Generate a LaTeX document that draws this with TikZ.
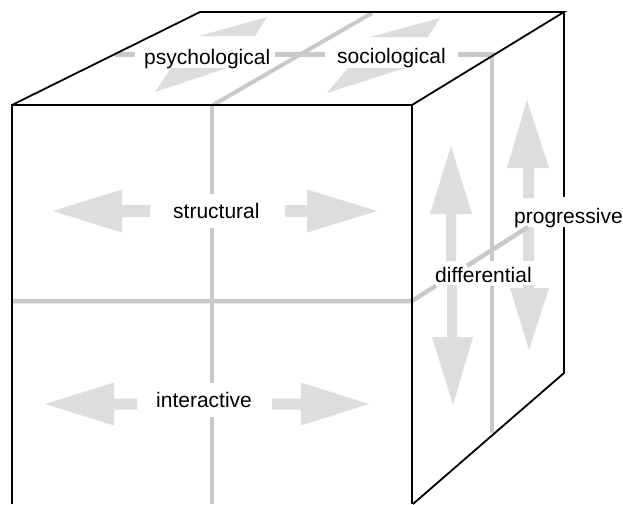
\documentclass[tikz,border=0pt]{standalone}
\usepackage{fontspec}
\setmainfont{Liberation Sans}
\definecolor{gridgrey}{HTML}{C9C9C9}
\definecolor{arrowgrey}{HTML}{DDDDDD}
\begin{document}
\begin{tikzpicture}[x=1pt,y=-1pt,
  cubeedge/.style={draw=black,line width=1.8pt,line join=miter},
  gridline/.style={draw=gridgrey,line width=4.5pt},
  arrowshape/.style={fill=arrowgrey,draw=none},
  lbl/.style={inner sep=0pt,anchor=base west,font=\fontsize{21}{25}\selectfont}]
\useasboundingbox[fill=white] (0,0) rectangle (623,504);

% ---- grey arrows, front face ----
\fill[arrowshape] (53,211) -- (122,189.5) -- (122,205) -- (150,205) -- (150,217) -- (122,217) -- (122,232.5) -- cycle;
\fill[arrowshape] (285,205) -- (307,205) -- (307,189.5) -- (377,211) -- (307,232.5) -- (307,217) -- (285,217) -- cycle;
\fill[arrowshape] (45,404) -- (114,382.5) -- (114,398.5) -- (137,398.5) -- (137,409.5) -- (114,409.5) -- (114,425.5) -- cycle;
\fill[arrowshape] (272,398.5) -- (301,398.5) -- (301,382.5) -- (369,404) -- (301,425.5) -- (301,409.5) -- (272,409.5) -- cycle;

% ---- grey arrows, right face ----
\fill[arrowshape] (451,146) -- (472,214) -- (456,214) -- (456,261) -- (446,261) -- (446,214) -- (430,214) -- cycle;
\fill[arrowshape] (447,285) -- (457,285) -- (457,337) -- (473,337) -- (453,405) -- (432,337) -- (447,337) -- cycle;
\fill[arrowshape] (527,100) -- (549,168) -- (534,168) -- (534,198) -- (523,198) -- (523,168) -- (507,168) -- cycle;
\fill[arrowshape] (523,227) -- (534,227) -- (534,261) -- (523,261) -- cycle;
\fill[arrowshape] (523,285) -- (534,285) -- (534,288) -- (549,288) -- (529,350) -- (510,288) -- (523,288) -- cycle;

% ---- grey arrow heads, top face ----
\fill[arrowshape] (199,36) -- (255,36) -- (267,17) -- cycle;
\fill[arrowshape] (171,68) -- (227,68) -- (155,92) -- cycle;
\fill[arrowshape] (370,37) -- (428,37) -- (440,18) -- cycle;
\fill[arrowshape] (348,68) -- (405,68) -- (327,93) -- cycle;

% ---- grey grid lines ----
\draw[gridline] (212,105) -- (212,194);
\draw[gridline] (212,228) -- (212,383);
\draw[gridline] (212,417) -- (212,504);
\draw[gridline] (12,301) -- (412,301) -- (436,285.7);
\draw[gridline] (467,265.9) -- (528,227);
\draw[gridline,line width=4pt] (213,105) -- (372,13);
\draw[gridline] (115,54.5) -- (135,54.5);
\draw[gridline] (275,54.5) -- (325,54.5);
\draw[gridline] (458,54.5) -- (492,54.5) -- (492,261);
\draw[gridline] (492,286) -- (492,433);

% ---- cube edges ----
\draw[cubeedge] (12,504) -- (12,105) -- (412,105) -- (412,504);
\draw[cubeedge] (12,105) -- (200,12) -- (564,12) -- (412,105);
\draw[cubeedge] (564,12) -- (564,197);
\draw[cubeedge] (564,227) -- (564,373) -- (413,504);

% ---- labels ----
\node[lbl] (psy) at (144,64) {psychological};
\node[lbl] (soc) at (337,63.5) {sociological};
\node[lbl] (str) at (173,218.5) {structural};
\node[lbl] (int) at (156,407.5) {interactive};
\node[lbl] (dif) at (435,282) {differential};
\node[lbl] (pro) at (514,223) {progressive};
\end{tikzpicture}
\end{document}
